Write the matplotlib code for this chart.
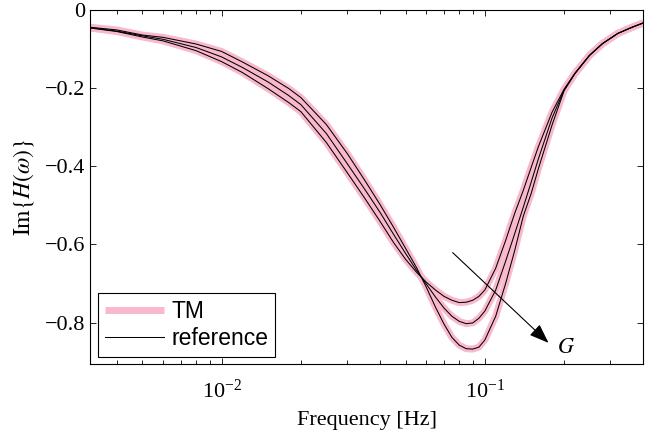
import numpy as np
import matplotlib
matplotlib.use("Agg")
import matplotlib.pyplot as plt

# ---- data ----
freq = [0.00316, 0.004, 0.005, 0.006, 0.008, 0.010, 0.012, 0.015, 0.018, 0.020,
        0.025, 0.030, 0.035, 0.040, 0.045, 0.050, 0.055, 0.060, 0.065, 0.070,
        0.075, 0.080, 0.085, 0.090, 0.095, 0.100, 0.110, 0.120, 0.130, 0.140,
        0.150, 0.160, 0.180, 0.200, 0.220, 0.250, 0.280, 0.320, 0.360, 0.400]

# shallow curve (smallest G)
im_g1 = [-0.046, -0.055, -0.069, -0.079, -0.104, -0.132, -0.160, -0.201, -0.237, -0.260,
         -0.339, -0.416, -0.482, -0.541, -0.595, -0.638, -0.671, -0.697, -0.717, -0.733,
         -0.743, -0.749, -0.748, -0.743, -0.733, -0.717, -0.661, -0.590, -0.520, -0.462,
         -0.403, -0.349, -0.262, -0.203, -0.162, -0.116, -0.086, -0.060, -0.045, -0.033]
# middle curve
im_g2 = [-0.045, -0.054, -0.066, -0.075, -0.096, -0.120, -0.147, -0.184, -0.219, -0.242,
         -0.316, -0.393, -0.459, -0.518, -0.574, -0.623, -0.666, -0.702, -0.735, -0.763,
         -0.784, -0.797, -0.803, -0.801, -0.789, -0.771, -0.717, -0.643, -0.572, -0.505,
         -0.441, -0.380, -0.277, -0.205, -0.162, -0.116, -0.086, -0.060, -0.045, -0.033]
# deep curve (largest G)
im_g3 = [-0.044, -0.051, -0.064, -0.070, -0.087, -0.106, -0.133, -0.168, -0.201, -0.224,
         -0.293, -0.367, -0.436, -0.498, -0.556, -0.610, -0.659, -0.710, -0.761, -0.804,
         -0.838, -0.858, -0.867, -0.868, -0.863, -0.845, -0.784, -0.700, -0.615, -0.528,
         -0.470, -0.405, -0.295, -0.207, -0.163, -0.116, -0.086, -0.060, -0.045, -0.033]

curves = [im_g1, im_g2, im_g3]

legend_labels = ["TM", "reference"]
yticks = [-0.8, -0.6, -0.4, -0.2, 0.0]
ytick_labels = ["\u22120.8", "\u22120.6", "\u22120.4", "\u22120.2", "0"]
xlim = (10 ** -2.5, 0.4)
ylim = (-0.907, 0.0)

arrow_start = (0.0755, -0.621)
arrow_end = (0.1746, -0.852)
g_label_pos = (0.188, -0.866)

# ---- style ----
pink = "#F9B8CC"
plt.rcParams["mathtext.fontset"] = "stix"
plt.rcParams["font.family"] = ["Liberation Serif", "DejaVu Serif"]

fig = plt.figure(figsize=(6.65, 4.36), dpi=100)
ax = fig.add_axes([0.1353, 0.1644, 0.8320, 0.8126])

for c in curves:
    ax.plot(freq, c, color=pink, lw=5.0, solid_capstyle="butt", zorder=2)
for c in curves:
    ax.plot(freq, c, color="black", lw=0.75, zorder=3)

ax.set_xscale("log")
ax.set_xlim(*xlim)
ax.set_ylim(*ylim)
ax.set_yticks(yticks)
ax.set_yticklabels(ytick_labels)

ax.tick_params(which="both", direction="in", top=True, right=True, labelsize=16,
               width=0.6, colors="black")
ax.tick_params(which="major", length=4)
ax.tick_params(which="minor", length=3)
ax.tick_params(axis="x", pad=11)
for s in ax.spines.values():
    s.set_linewidth(0.8)

ax.set_xlabel("Frequency [Hz]", fontsize=16, labelpad=6)
ax.set_ylabel(r"$\mathrm{Im}\{H(\omega)\}$", fontsize=17, labelpad=6)

# arrow and G label
ax.annotate("", xy=arrow_end, xytext=arrow_start,
            arrowprops=dict(arrowstyle="-|>,head_length=1.2,head_width=0.45",
                            color="black", lw=0.8, shrinkA=0, shrinkB=0), zorder=5)
ax.text(g_label_pos[0], g_label_pos[1], r"$G$", fontsize=16, ha="left", va="center")

# legend
h1, = ax.plot([], [], color=pink, lw=5.0, solid_capstyle="butt")
h2, = ax.plot([], [], color="black", lw=0.75)
leg = ax.legend([h1, h2], legend_labels, loc="lower left",
                bbox_to_anchor=(0.015, 0.0215), borderaxespad=0,
                prop={"family": ["Liberation Sans"], "size": 16.5},
                fancybox=False, framealpha=1, edgecolor="black",
                handlelength=2.55, handletextpad=0.35, labelspacing=0.18,
                borderpad=0.3)
leg.get_frame().set_linewidth(0.8)

fig.savefig("out.png", dpi=100)
